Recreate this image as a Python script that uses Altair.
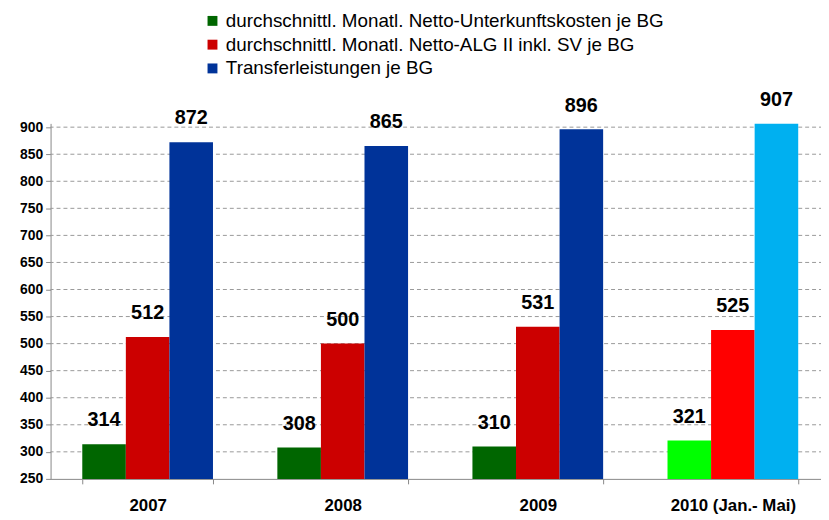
import altair as alt
import pandas as pd

years = ["2007", "2008", "2009", "2010 (Jan.- Mai)"]
series = [
    "durchschnittl. Monatl. Netto-Unterkunftskosten je BG",
    "durchschnittl. Monatl. Netto-ALG II inkl. SV je BG",
    "Transferleistungen je BG",
]
unterkunft = [314, 308, 310, 321]
alg2 = [512, 500, 531, 525]
transfer = [872, 865, 896, 907]
dark_colors = ["#006600", "#CC0000", "#003399"]
bright_colors = ["#00FF00", "#FF0000", "#00B0F0"]
grid_values = list(range(300, 901, 50))
tick_values = list(range(250, 901, 50))

rows = []
for i, yr in enumerate(years):
    for j, (s, vals) in enumerate(zip(series, [unterkunft, alg2, transfer])):
        key = s if i < 3 else s + " (2010)"
        rows.append({"year": yr, "series": s, "value": vals[i], "ck": key})
df = pd.DataFrame(rows)

domain = series + [s + " (2010)" for s in series]
rng = dark_colors + bright_colors

font = "Liberation Sans"
yscale = alt.Scale(domain=[250, 907], nice=False, zero=False)
yaxis = alt.Axis(values=tick_values, labelFontSize=14,
                 labelFontWeight="bold", labelColor="black", labelFont=font,
                 tickColor="#888", tickSize=5, domainColor="#888",
                 grid=False, labelPadding=3)

x = alt.X("year:N", sort=years, title=None,
          scale=alt.Scale(paddingInner=0.33, paddingOuter=0.1625),
          axis=alt.Axis(labelAngle=0, labelFontSize=17, labelFontWeight="bold",
                        labelColor="black", labelPadding=14, tickBand="extent",
                        tickColor="#888", tickSize=5, domainColor="#888",
                        labelFont=font))
xo = alt.XOffset("series:N", sort=series)
y = alt.Y("value:Q", title=None, scale=yscale, axis=yaxis)

grid = alt.Chart(pd.DataFrame({"v": grid_values})).mark_rule(
    color="#999", strokeDash=[4, 3], strokeWidth=1
).encode(y=alt.Y("v:Q", title=None, scale=yscale, axis=yaxis))

bars = alt.Chart(df).mark_bar(clip=True).encode(
    x=x, xOffset=xo, y=y, y2=alt.datum(250),
    color=alt.Color("ck:N", scale=alt.Scale(domain=domain, range=rng),
                    legend=alt.Legend(values=series, title=None, orient="none",
                                      legendX=154, legendY=-113, direction="vertical",
                                      symbolType="square", symbolSize=100,
                                      symbolStrokeWidth=0, labelFontSize=19,
                                      labelFont=font, labelColor="black",
                                      rowPadding=4, labelLimit=700,
                                      symbolOffset=0, labelOffset=4)),
)

labels = alt.Chart(df).mark_text(
    baseline="bottom", dy=-14, fontSize=20, fontWeight="bold", font=font, color="black"
).encode(x=x, xOffset=xo, y=y, text="value:Q")

chart = alt.layer(grid, bars, labels).properties(
    width=787, height=359,
    padding={"left": 43, "top": 114, "right": -9, "bottom": 39},
    autosize="none",
).configure_view(stroke=None)

chart.save("out.html", embed_options={"renderer": "svg", "actions": False})
